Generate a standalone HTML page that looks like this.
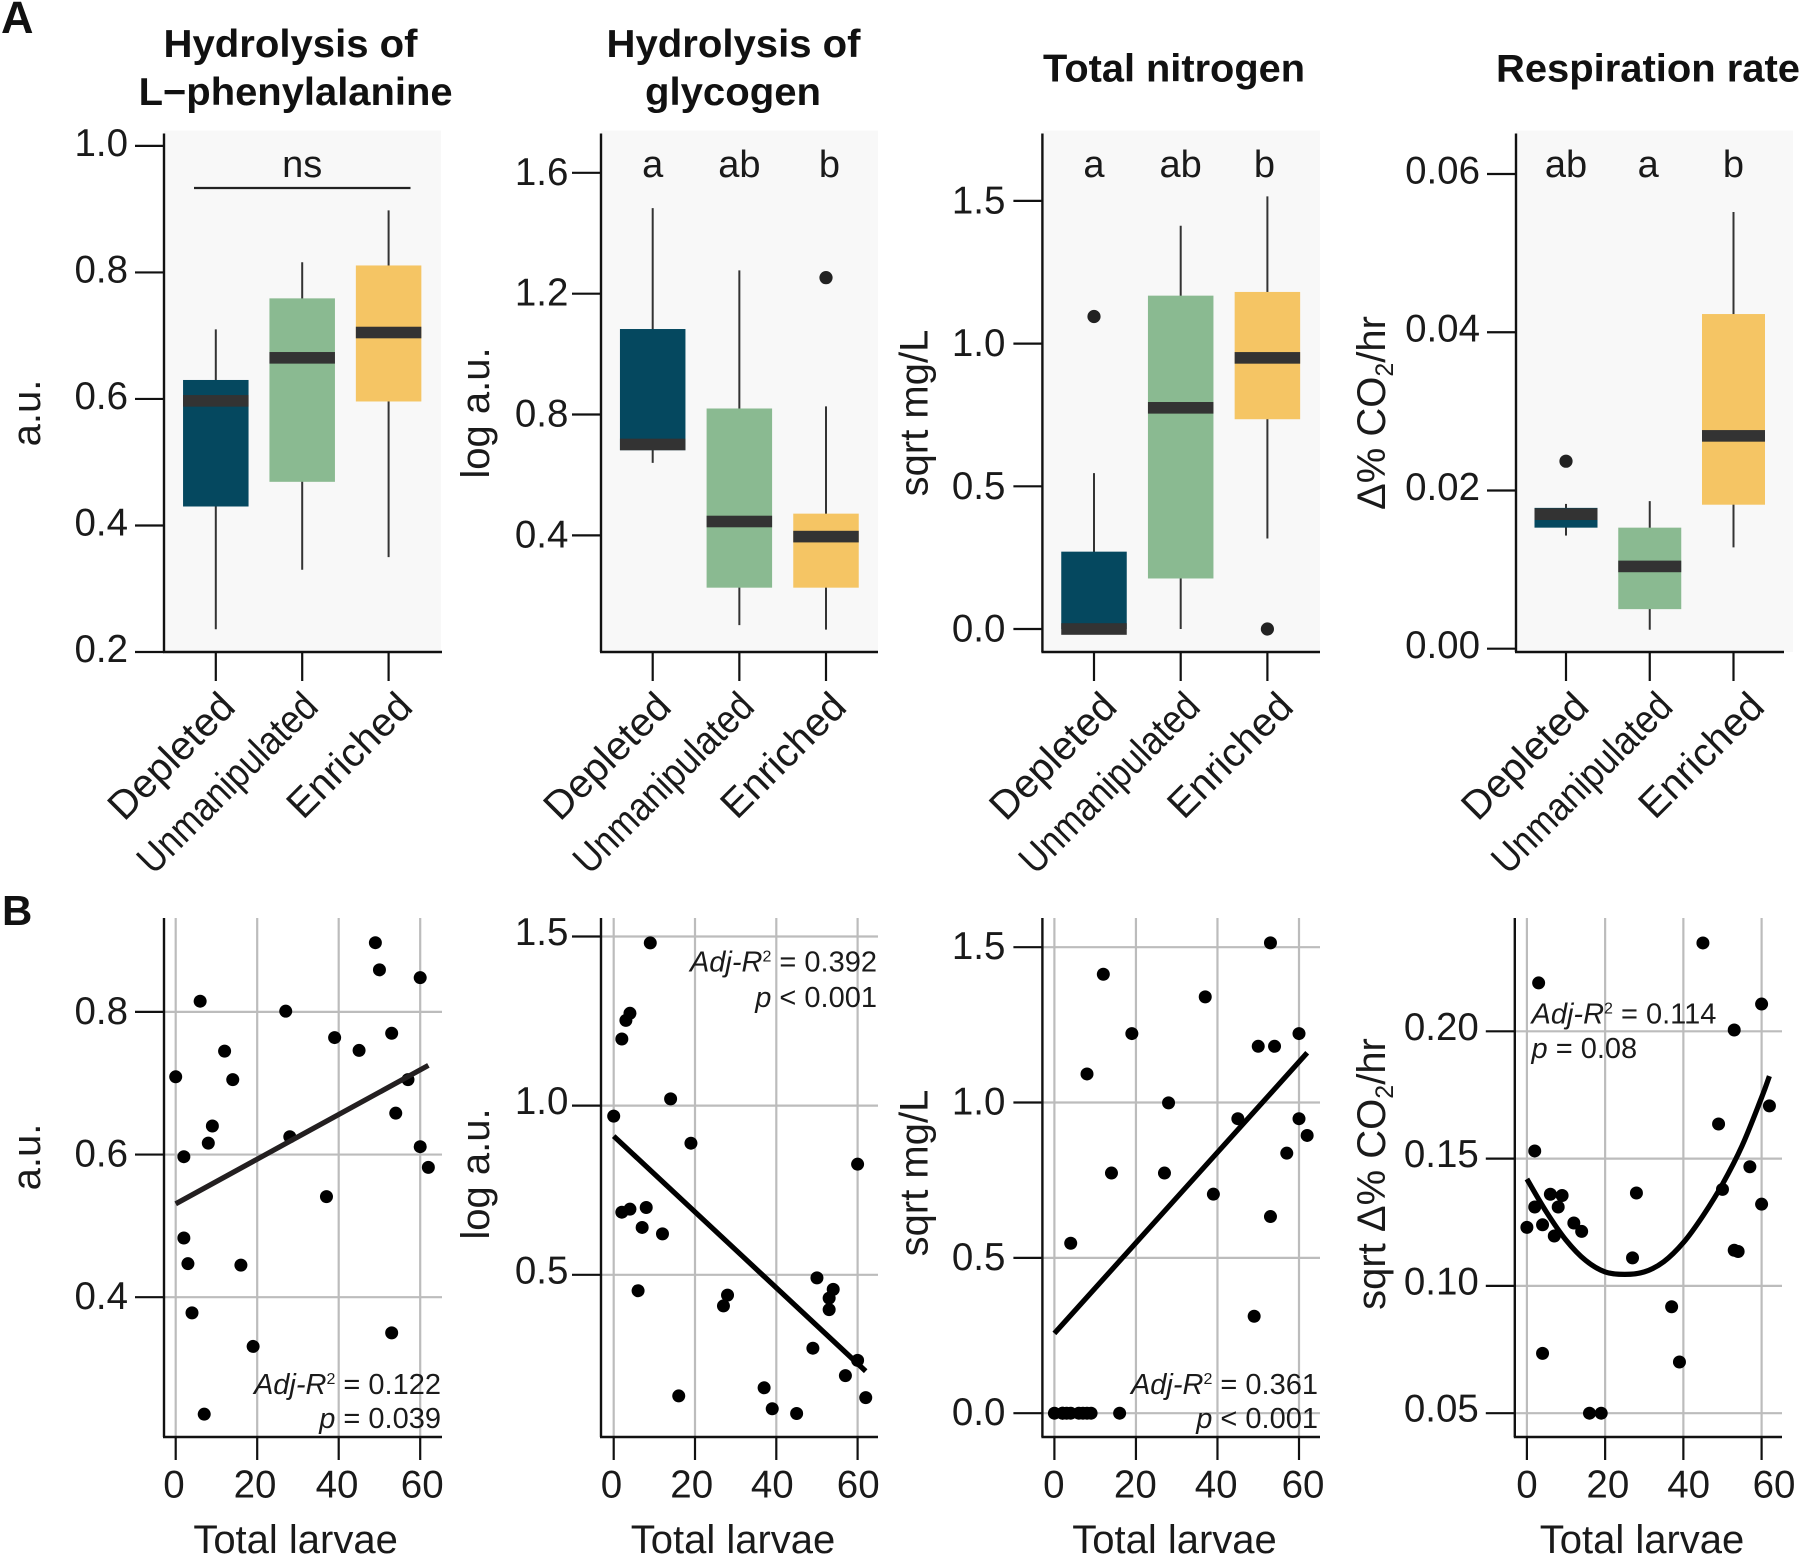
<!DOCTYPE html>
<html lang="en">
<head>
<meta charset="utf-8">
<title>Larval hydrolysis, nitrogen and respiration panels</title>
<style>
html,body{margin:0;padding:0;background:#fff;}
svg{display:block;font-family:"Liberation Sans",Arial,sans-serif;}
text{fill:#1a1a1a;}
.title{font-size:39px;font-weight:700;text-anchor:middle;fill:#111;}
.tag{font-weight:700;fill:#111;}
.ylab{font-size:40px;text-anchor:middle;}
.xlab{font-size:40px;text-anchor:middle;}
.note{font-size:29px;}
.letter{font-size:38px;text-anchor:middle;}
</style>
</head>
<body>
<svg id="figure" xmlns="http://www.w3.org/2000/svg" width="1800" height="1556" viewBox="0 0 1800 1556">
  <rect x="0" y="0" width="1800" height="1556" fill="#fff"/>
  <g id="marks"></g>

  <text class="tag" x="1" y="33" font-size="45">A</text>
  <text class="tag" x="2" y="925" font-size="42">B</text>

  <text class="title" x="290.5" y="57" textLength="254" lengthAdjust="spacingAndGlyphs">Hydrolysis of</text>
  <text class="title" x="295.6" y="105" textLength="314" lengthAdjust="spacingAndGlyphs">L−phenylalanine</text>
  <text class="title" x="733.5" y="57" textLength="254" lengthAdjust="spacingAndGlyphs">Hydrolysis of</text>
  <text class="title" x="733" y="105" textLength="176" lengthAdjust="spacingAndGlyphs">glycogen</text>
  <text class="title" x="1174" y="81.5" textLength="262" lengthAdjust="spacingAndGlyphs">Total nitrogen</text>
  <text class="title" x="1648" y="81.5" textLength="304" lengthAdjust="spacingAndGlyphs">Respiration rate</text>

  <text class="ylab" transform="translate(40 413) rotate(-90)">a.u.</text>
  <text class="ylab" transform="translate(489 413) rotate(-90)">log a.u.</text>
  <text class="ylab" transform="translate(927.5 413) rotate(-90)">sqrt mg/L</text>
  <text class="ylab" transform="translate(1385 413) rotate(-90)">Δ% CO<tspan font-size="25" dy="8">2</tspan><tspan dy="-8">/hr</tspan></text>

  <text class="ylab" transform="translate(40 1157) rotate(-90)">a.u.</text>
  <text class="ylab" transform="translate(489 1174) rotate(-90)">log a.u.</text>
  <text class="ylab" transform="translate(927.5 1173) rotate(-90)">sqrt mg/L</text>
  <text class="ylab" transform="translate(1385 1174) rotate(-90)">sqrt Δ% CO<tspan font-size="25" dy="8">2</tspan><tspan dy="-8">/hr</tspan></text>

  <text class="xlab" x="295.6" y="1553">Total larvae</text>
  <text class="xlab" x="733" y="1553">Total larvae</text>
  <text class="xlab" x="1174.5" y="1553">Total larvae</text>
  <text class="xlab" x="1642" y="1553">Total larvae</text>

  <text class="note" x="441" y="1394" text-anchor="end"><tspan font-style="italic">Adj-R</tspan><tspan font-size="16" dy="-10">2</tspan><tspan dy="10"> = 0.122</tspan></text>
  <text class="note" x="441" y="1428" text-anchor="end"><tspan font-style="italic">p</tspan> = 0.039</text>
  <text class="note" x="877" y="971.5" text-anchor="end"><tspan font-style="italic">Adj-R</tspan><tspan font-size="16" dy="-10">2</tspan><tspan dy="10"> = 0.392</tspan></text>
  <text class="note" x="877" y="1007" text-anchor="end"><tspan font-style="italic">p</tspan> &lt; 0.001</text>
  <text class="note" x="1318" y="1394" text-anchor="end"><tspan font-style="italic">Adj-R</tspan><tspan font-size="16" dy="-10">2</tspan><tspan dy="10"> = 0.361</tspan></text>
  <text class="note" x="1318" y="1428" text-anchor="end"><tspan font-style="italic">p</tspan> &lt; 0.001</text>
  <text class="note" x="1531.5" y="1023.5"><tspan font-style="italic">Adj-R</tspan><tspan font-size="16" dy="-10">2</tspan><tspan dy="10"> = 0.114</tspan></text>
  <text class="note" x="1531.5" y="1058"><tspan font-style="italic">p</tspan> = 0.08</text>
</svg>

<script>
// ---------- Shared data ----------
const categories = ['Depleted', 'Unmanipulated', 'Enriched'];
const categoryColors = ['#05485f', '#8aba91', '#f5c564'];

// ---------- Panel A1: Hydrolysis of L-phenylalanine ----------
const a1YTicks = ['1.0', '0.8', '0.6', '0.4', '0.2'];
const a1Q1 = [0.43, 0.469, 0.596];
const a1Median = [0.597, 0.665, 0.705];
const a1Q3 = [0.63, 0.759, 0.811];
const a1WhiskerLow = [0.236, 0.33, 0.35];
const a1WhiskerHigh = [0.71, 0.816, 0.898];
const a1Outliers = [[], [], []];
const a1Letters = ['', 'ns', ''];

// ---------- Panel A2: Hydrolysis of glycogen ----------
const a2YTicks = ['1.6', '1.2', '0.8', '0.4'];
const a2Q1 = [0.682, 0.227, 0.227];
const a2Median = [0.701, 0.446, 0.396];
const a2Q3 = [1.083, 0.82, 0.472];
const a2WhiskerLow = [0.64, 0.103, 0.088];
const a2WhiskerHigh = [1.483, 1.277, 0.827];
const a2Outliers = [[], [], [1.253]];
const a2Letters = ['a', 'ab', 'b'];

// ---------- Panel A3: Total nitrogen ----------
const a3YTicks = ['1.5', '1.0', '0.5', '0.0'];
const a3Q1 = [0, 0.177, 0.735];
const a3Median = [0, 0.775, 0.95];
const a3Q3 = [0.271, 1.168, 1.181];
const a3WhiskerLow = [0, 0, 0.317];
const a3WhiskerHigh = [0.546, 1.413, 1.516];
const a3Outliers = [[1.095], [], [0]];
const a3Letters = ['a', 'ab', 'b'];

// ---------- Panel A4: Respiration rate ----------
const a4YTicks = ['0.06', '0.04', '0.02', '0.00'];
const a4Q1 = [0.0153, 0.005, 0.0182];
const a4Median = [0.017, 0.0104, 0.0269];
const a4Q3 = [0.0178, 0.0153, 0.0423];
const a4WhiskerLow = [0.0143, 0.0024, 0.0128];
const a4WhiskerHigh = [0.0183, 0.01865, 0.0552];
const a4Outliers = [[0.0237], [], []];
const a4Letters = ['ab', 'a', 'b'];

// ---------- Panel B1 ----------
const b1XTicks = ['0', '20', '40', '60'];
const b1YTicks = ['0.8', '0.6', '0.4'];
const b1Larvae = [0, 2, 2, 3, 4, 6, 7, 8, 9, 12, 14, 16, 19, 27, 28, 37, 39, 45, 49, 50, 53, 53, 54, 57, 60, 60, 62];
const b1Values = [0.709, 0.597, 0.483, 0.447, 0.378, 0.815, 0.236, 0.616, 0.64, 0.745, 0.705, 0.445, 0.331, 0.801, 0.625, 0.541, 0.764, 0.746, 0.897, 0.859, 0.35, 0.77, 0.658, 0.705, 0.848, 0.611, 0.582];
const b1FitX = [0, 62];
const b1FitY = [0.531, 0.725];

// ---------- Panel B2 ----------
const b2XTicks = ['0', '20', '40', '60'];
const b2YTicks = ['1.5', '1.0', '0.5'];
const b2Larvae = [0, 2, 2, 3, 4, 4, 6, 7, 8, 9, 12, 14, 16, 19, 27, 28, 37, 39, 45, 49, 50, 53, 53, 54, 57, 60, 60, 62];
const b2Values = [0.969, 0.685, 1.197, 1.252, 0.694, 1.273, 0.453, 0.64, 0.699, 1.481, 0.621, 1.02, 0.142, 0.889, 0.408, 0.44, 0.166, 0.104, 0.09, 0.283, 0.491, 0.397, 0.431, 0.457, 0.202, 0.827, 0.247, 0.137];
const b2FitX = [0, 62];
const b2FitY = [0.91, 0.215];

// ---------- Panel B3 ----------
const b3XTicks = ['0', '20', '40', '60'];
const b3YTicks = ['1.5', '1.0', '0.5', '0.0'];
const b3Larvae = [0, 2, 2, 3, 4, 6, 7, 8, 9, 16, 4, 8, 12, 14, 19, 27, 28, 37, 39, 45, 49, 50, 53, 53, 54, 57, 60, 60, 62];
const b3Values = [0, 0, 0, 0, 0, 0, 0, 0, 0, 0, 0.547, 1.092, 1.413, 0.773, 1.222, 0.773, 0.999, 1.34, 0.705, 0.948, 0.312, 1.181, 1.514, 0.633, 1.181, 0.837, 1.222, 0.948, 0.894];
const b3FitX = [0, 62];
const b3FitY = [0.257, 1.16];

// ---------- Panel B4 ----------
const b4XTicks = ['0', '20', '40', '60'];
const b4YTicks = ['0.20', '0.15', '0.10', '0.05'];
const b4Larvae = [0, 2, 2, 3, 4, 4, 6, 7, 8, 9, 12, 14, 16, 19, 27, 28, 37, 39, 45, 49, 50, 53, 53, 54, 57, 60, 60, 62];
const b4Values = [0.123, 0.153, 0.131, 0.219, 0.124, 0.0735, 0.136, 0.1196, 0.131, 0.1355, 0.1247, 0.1214, 0.05, 0.05, 0.111, 0.1365, 0.0918, 0.0701, 0.2347, 0.1636, 0.1379, 0.2005, 0.114, 0.1135, 0.1468, 0.1321, 0.2107, 0.1707];
const b4FitX = [0, 5, 10, 15, 20, 25, 30, 35, 40, 45, 50, 55, 60, 62];
const b4FitY = [0.142, 0.129, 0.118, 0.11, 0.1055, 0.1045, 0.1055, 0.1095, 0.117, 0.1275, 0.14, 0.155, 0.174, 0.1824];

// ---------- Layout (pixels only, separate from the data) ----------
const layoutA1 = {id: 'a1', axisX: 164, right: 442, bgRight: 441, top: 133.5, bottom: 652, cat0: 215.8, catStep: 86.4, boxW: 65.5, v0: 0.2, y0: 652, v1: 1.0, y1: 145.9, labelDy: 10, labelDx: 0, catShift: [3.5, 0, 8], letterShift: [0, 0, 0]};
const layoutA2 = {id: 'a2', axisX: 601, right: 878, bgRight: 878, top: 133.5, bottom: 652, cat0: 652.7, catStep: 86.65, boxW: 65.5, v0: 0.4, y0: 535.4, v1: 1.6, y1: 172.8, labelDy: 12, labelDx: 3.4, catShift: [2.5, -1, 4.5], letterShift: [0, 0, 3.5]};
const layoutA3 = {id: 'a3', axisX: 1042.4, right: 1320, bgRight: 1320, top: 133.5, bottom: 652, cat0: 1094, catStep: 86.7, boxW: 65.5, v0: 0, y0: 629, v1: 1.5, y1: 200.9, labelDy: 12.5, labelDx: -1, catShift: [7, 3.5, 10], letterShift: [0, 0, -3]};
const layoutA4 = {id: 'a4', axisX: 1516, right: 1784, bgRight: 1793, top: 133.5, bottom: 652, cat0: 1566, catStep: 83.75, boxW: 63, v0: 0, y0: 648.7, v1: 0.06, y1: 174, labelDy: 9.5, labelDx: 0, catShift: [7, 7, 15], letterShift: [0, -1.5, 0]};
const layoutB1 = {id: 'b1', axisX: 164, right: 442, top: 918, bottom: 1437, xPx0: 175.7, xPx60: 420.2, v0: 0.4, y0: 1297.2, v1: 0.8, y1: 1011.9, fitColor: '#231f20', labelDy: 12, labelDx: 0, xLabelOffset: [-1.7, -2.2, -1.7, 2]};
const layoutB2 = {id: 'b2', axisX: 601, right: 878, top: 918, bottom: 1437, xPx0: 613.7, xPx60: 857.6, v0: 0.5, y0: 1274.8, v1: 1.5, y1: 936.5, fitColor: '#000', labelDy: 8.5, labelDx: 3.4, xLabelOffset: [-2.3, -3.3, -4, 0.6]};
const layoutB3 = {id: 'b3', axisX: 1042.4, right: 1320, top: 918, bottom: 1437, xPx0: 1054.4, xPx60: 1299, v0: 0, y0: 1413.2, v1: 1.5, y1: 947.2, fitColor: '#000', labelDy: 12, labelDx: -1, xLabelOffset: [-0.6, -0.6, -1.3, 4]};
const layoutB4 = {id: 'b4', axisX: 1514.8, right: 1782, top: 918, bottom: 1437, xPx0: 1526.9, xPx60: 1761.6, v0: 0.05, y0: 1413.2, v1: 0.2, y1: 1031.3, fitColor: '#000', labelDy: 8.5, labelDx: 0, xLabelOffset: [0, 2.7, 5.3, 12.4]};

const SVG_NS = 'http://www.w3.org/2000/svg';
const root = document.getElementById('marks');

function mk(parent, tag, attrs, txt) {
  const el = document.createElementNS(SVG_NS, tag);
  for (const k in attrs) el.setAttribute(k, attrs[k]);
  if (txt !== undefined) el.textContent = txt;
  parent.appendChild(el);
  return el;
}

function yScale(lay) {
  return function (v) {
    return lay.y0 + (v - lay.v0) * (lay.y1 - lay.y0) / (lay.v1 - lay.v0);
  };
}

function drawYAxis(g, lay, ticks, y, labelDy) {
  ticks.forEach(function (t) {
    const yy = y(parseFloat(t));
    const tick = mk(g, 'line', {x1: lay.axisX - 29, x2: lay.axisX, y1: yy, y2: yy, stroke: '#111', 'stroke-width': 2.2});
    
    
    const label = mk(g, 'text', {x: lay.axisX - 36 + lay.labelDx, y: yy + labelDy, 'font-size': 38.5, 'text-anchor': 'end'}, t);
    
    
  });
  const axis = mk(g, 'line', {x1: lay.axisX, x2: lay.axisX, y1: lay.top, y2: lay.bottom, stroke: '#111', 'stroke-width': 2.4});
  
  
  const xAxis = mk(g, 'line', {x1: lay.axisX - 1, x2: lay.right, y1: lay.bottom, y2: lay.bottom, stroke: '#111', 'stroke-width': 2.4});
  
  
}

function drawBoxPanel(lay, yTicks, q1, med, q3, wLow, wHigh, outliers, letters) {
  const g = mk(root, 'g', {});
  
  
  const y = yScale(lay);
  const bg = mk(g, 'rect', {x: lay.axisX, y: lay.top - 3, width: lay.bgRight - lay.axisX, height: lay.bottom - lay.top + 3, fill: '#f8f8f8'});
  
  

  categories.forEach(function (cat, i) {
    const cx = lay.cat0 + i * lay.catStep;
    const slug = lay.id + '-' + cat.toLowerCase();

    const whisker = mk(g, 'line', {x1: cx, x2: cx, y1: y(wLow[i]), y2: y(wHigh[i]), stroke: '#333', 'stroke-width': 2});
    
    

    const box = mk(g, 'rect', {x: cx - lay.boxW / 2, y: y(q3[i]), width: lay.boxW, height: y(q1[i]) - y(q3[i]), fill: categoryColors[i]});
    
    

    const median = mk(g, 'rect', {x: cx - lay.boxW / 2, y: y(med[i]) - 5.8, width: lay.boxW, height: 11.6, fill: '#333'});
    
    

    outliers[i].forEach(function (v) {
      const dot = mk(g, 'circle', {cx: cx, cy: y(v), r: 6.6, fill: '#222'});
      
      
    });

    if (letters[i]) {
      const letter = mk(g, 'text', {x: cx + lay.letterShift[i], y: 176.8, class: 'letter'}, letters[i]);
      
      
    }

    const tick = mk(g, 'line', {x1: cx, x2: cx, y1: lay.bottom, y2: 681, stroke: '#111', 'stroke-width': 2.2});
    
    

    const tx = cx + 18 + lay.catShift[i];
    const labelAttrs = {x: tx, y: 709, 'font-size': 40, 'text-anchor': 'end', transform: 'rotate(-45 ' + tx + ' 709)'};
    if (cat === 'Unmanipulated') {
      labelAttrs.textLength = 236;
      labelAttrs.lengthAdjust = 'spacingAndGlyphs';
    }
    const label = mk(g, 'text', labelAttrs, cat);
    
    
  });

  drawYAxis(g, lay, yTicks, y, lay.labelDy);
}

// Smooth path (Catmull-Rom to cubic Bezier) through the fit samples.
function smoothPath(px, py) {
  let d = 'M' + px[0].toFixed(1) + ' ' + py[0].toFixed(1);
  for (let i = 0; i < px.length - 1; i++) {
    const a = Math.max(i - 1, 0);
    const b = Math.min(i + 2, px.length - 1);
    const c1x = px[i] + (px[i + 1] - px[a]) / 6;
    const c1y = py[i] + (py[i + 1] - py[a]) / 6;
    const c2x = px[i + 1] - (px[b] - px[i]) / 6;
    const c2y = py[i + 1] - (py[b] - py[i]) / 6;
    d += ' C' + c1x.toFixed(1) + ' ' + c1y.toFixed(1) + ' ' + c2x.toFixed(1) + ' ' + c2y.toFixed(1) + ' ' + px[i + 1].toFixed(1) + ' ' + py[i + 1].toFixed(1);
  }
  return d;
}

function drawScatterPanel(lay, xTicks, yTicks, larvae, values, fitX, fitY) {
  const g = mk(root, 'g', {});
  
  
  const y = yScale(lay);
  const x = function (v) { return lay.xPx0 + v * (lay.xPx60 - lay.xPx0) / 60; };

  xTicks.forEach(function (t, i) {
    const xx = x(parseFloat(t));
    const grid = mk(g, 'line', {x1: xx, x2: xx, y1: lay.top, y2: lay.bottom, stroke: '#bcbcbc', 'stroke-width': 2.2});
    
    
    const tick = mk(g, 'line', {x1: xx, x2: xx, y1: lay.bottom, y2: 1460, stroke: '#111', 'stroke-width': 2.2});
    
    
    const label = mk(g, 'text', {x: xx + lay.xLabelOffset[i], y: 1497.5, 'font-size': 38.5, 'text-anchor': 'middle'}, t);
    
    
  });
  yTicks.forEach(function (t) {
    const yy = y(parseFloat(t));
    const grid = mk(g, 'line', {x1: lay.axisX, x2: lay.right, y1: yy, y2: yy, stroke: '#bcbcbc', 'stroke-width': 2.2});
    
    
  });

  drawYAxis(g, lay, yTicks, y, lay.labelDy);

  larvae.forEach(function (n, i) {
    const dot = mk(g, 'circle', {cx: x(n), cy: y(values[i]), r: 6.5, fill: '#000'});
    
    
  });

  const fit = mk(g, 'path', {d: smoothPath(fitX.map(x), fitY.map(y)), fill: 'none', stroke: lay.fitColor, 'stroke-width': 5.2, 'stroke-linejoin': 'round'});
  
  
}

drawBoxPanel(layoutA1, a1YTicks, a1Q1, a1Median, a1Q3, a1WhiskerLow, a1WhiskerHigh, a1Outliers, a1Letters);
drawBoxPanel(layoutA2, a2YTicks, a2Q1, a2Median, a2Q3, a2WhiskerLow, a2WhiskerHigh, a2Outliers, a2Letters);
drawBoxPanel(layoutA3, a3YTicks, a3Q1, a3Median, a3Q3, a3WhiskerLow, a3WhiskerHigh, a3Outliers, a3Letters);
drawBoxPanel(layoutA4, a4YTicks, a4Q1, a4Median, a4Q3, a4WhiskerLow, a4WhiskerHigh, a4Outliers, a4Letters);

const nsLine = mk(root, 'line', {x1: 194, x2: 410.5, y1: 188, y2: 188, stroke: '#222', 'stroke-width': 2.2});



drawScatterPanel(layoutB1, b1XTicks, b1YTicks, b1Larvae, b1Values, b1FitX, b1FitY);
drawScatterPanel(layoutB2, b2XTicks, b2YTicks, b2Larvae, b2Values, b2FitX, b2FitY);
drawScatterPanel(layoutB3, b3XTicks, b3YTicks, b3Larvae, b3Values, b3FitX, b3FitY);
drawScatterPanel(layoutB4, b4XTicks, b4YTicks, b4Larvae, b4Values, b4FitX, b4FitY);
</script>
</body>
</html>
